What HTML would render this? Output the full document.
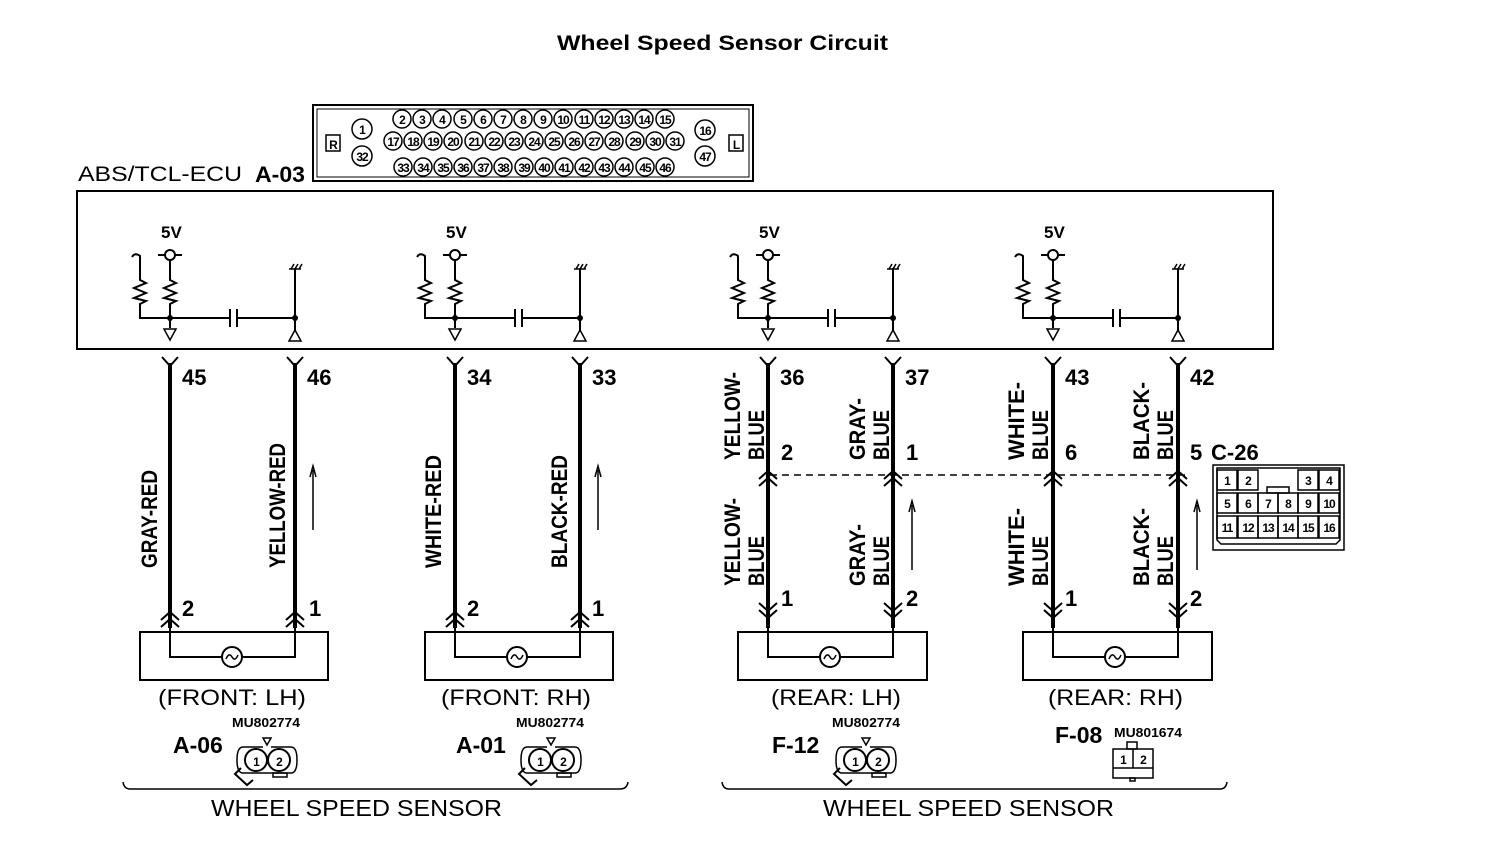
<!DOCTYPE html>
<html><head><meta charset="utf-8"><style>
html,body{margin:0;padding:0;background:#fff}
svg{display:block}
text{font-family:"Liberation Sans",sans-serif;fill:#000}
.b{font-weight:bold}
.pn{font-weight:bold;font-size:12px;letter-spacing:-1px}
.num{font-weight:bold;font-size:22px}
.lab{font-weight:bold;font-size:22px}
</style></head><body>
<svg width="1504" height="852" viewBox="0 0 1504 852" xmlns="http://www.w3.org/2000/svg">
<defs>
<g id="ecu" fill="none" stroke="#000" stroke-width="2">
  <line x1="-12" y1="255" x2="12" y2="255"/>
  <circle cx="0" cy="255" r="5" fill="#fff"/>
  <path d="M0,260 L0,280 L6,283 L-6,288 L6,293 L-6,298 L6,301 L0,304 L0,318"/>
  <path d="M-38,257 Q-35,252 -30,256 L-30,280 L-24,283 L-36,288 L-24,293 L-36,298 L-24,301 L-30,304 L-30,318 L0,318"/>
  <line x1="0" y1="318" x2="60" y2="318"/>
  <line x1="60" y1="309" x2="60" y2="327"/>
  <line x1="67" y1="309" x2="67" y2="327"/>
  <line x1="67" y1="318" x2="125" y2="318"/>
  <line x1="125" y1="268" x2="125" y2="330"/>
  <path d="M119,269 L131,269 M121,269 L124,264 M125,269 L128,264 M129,269 L132,264" stroke-width="1.5"/>
  <line x1="0" y1="318" x2="0" y2="328"/>
  <path d="M-6,329 L6,329 L0,340 Z" stroke-width="1.5"/>
  <path d="M119,341 L131,341 L125,330 Z" stroke-width="1.5"/>
  <circle cx="0" cy="318" r="3" fill="#000" stroke="none"/>
  <circle cx="125" cy="318" r="3" fill="#000" stroke="none"/>
  <path d="M-8,357 L0,366 L8,357 M117,357 L125,366 L133,357"/>
</g>
<g id="front" fill="none" stroke="#000">
  <line x1="0" y1="363" x2="0" y2="628" stroke-width="4"/>
  <line x1="125" y1="363" x2="125" y2="628" stroke-width="4"/>
  <path d="M-9,620 L0,612 L9,620 M-9,627 L0,619 L9,627 M116,620 L125,612 L134,620 M116,627 L125,619 L134,627" stroke-width="2"/>
  <rect x="-30" y="632" width="188" height="48" stroke-width="2"/>
  <path d="M0,628 L0,657 L52,657 M72,657 L125,657 L125,628" stroke-width="2"/>
  <circle cx="62" cy="657" r="10" stroke-width="2"/>
  <path d="M56,659 Q59,652 62,657 Q65,662 68,655" stroke-width="1.5"/>
  <line x1="143" y1="530" x2="143" y2="470" stroke-width="1.5"/>
  <path d="M140,477 L143,466 L146,477" stroke-width="1.5"/>
</g>
<g id="rear" fill="none" stroke="#000">
  <line x1="0" y1="363" x2="0" y2="628" stroke-width="4"/>
  <line x1="125" y1="363" x2="125" y2="628" stroke-width="4"/>
  <path d="M-9,479 L0,471 L9,479 M-9,486 L0,478 L9,486 M116,479 L125,471 L134,479 M116,486 L125,478 L134,486" stroke-width="2"/>
  <path d="M-9,603 L0,611 L9,603 M-9,610 L0,618 L9,610 M116,603 L125,611 L134,603 M116,610 L125,618 L134,610" stroke-width="2"/>
  <rect x="-30" y="632" width="189" height="48" stroke-width="2"/>
  <path d="M0,628 L0,657 L52,657 M72,657 L125,657 L125,628" stroke-width="2"/>
  <circle cx="62" cy="657" r="10" stroke-width="2"/>
  <path d="M56,659 Q59,652 62,657 Q65,662 68,655" stroke-width="1.5"/>
  <line x1="144" y1="570" x2="144" y2="505" stroke-width="1.5"/>
  <path d="M141,512 L144,501 L147,512" stroke-width="1.5"/>
</g>
<g id="conn2" fill="none" stroke="#000" stroke-width="2">
  <path d="M-4,-22 L4,-22 L0,-15 Z" stroke-width="1.5"/>
  <path d="M-4,-13 L-24,-13 Q-30,-13 -30,0 Q-30,13 -24,13 L24,13 Q30,13 30,0 Q30,-13 24,-13 L4,-13" stroke-width="1.5"/>
  <circle cx="-11" cy="0" r="11"/>
  <circle cx="12" cy="0" r="11"/>
  <path d="M-26,8 L-32,14 L-20,25 L-14,20" />
  <rect x="6" y="13" width="14" height="4" stroke-width="1.5"/>
</g>
</defs>

<text x="557" y="50" class="b" font-size="21" textLength="331" lengthAdjust="spacingAndGlyphs">Wheel Speed Sensor Circuit</text>

<!-- top connector -->
<rect x="313" y="105" width="440" height="76" fill="none" stroke="#000" stroke-width="2"/>
<rect x="317" y="109" width="432" height="68" fill="none" stroke="#000" stroke-width="1"/>
<rect x="326" y="135" width="14" height="16" fill="none" stroke="#000" stroke-width="1.5"/>
<text x="333" y="149" class="pn" text-anchor="middle">R</text>
<rect x="729" y="135" width="14" height="16" fill="none" stroke="#000" stroke-width="1.5"/>
<text x="736" y="149" class="pn" text-anchor="middle">L</text>
<g fill="none" stroke="#000" stroke-width="1.5">
<circle cx="362" cy="129" r="10"/><circle cx="362" cy="156" r="10"/><circle cx="705" cy="130" r="10"/><circle cx="705" cy="156" r="10"/>
<circle cx="402" cy="119" r="9"/><circle cx="422" cy="119" r="9"/><circle cx="442" cy="119" r="9"/><circle cx="463" cy="119" r="9"/><circle cx="483" cy="119" r="9"/><circle cx="503" cy="119" r="9"/><circle cx="523" cy="119" r="9"/><circle cx="543" cy="119" r="9"/><circle cx="563" cy="119" r="9"/><circle cx="584" cy="119" r="9"/><circle cx="604" cy="119" r="9"/><circle cx="624" cy="119" r="9"/><circle cx="644" cy="119" r="9"/><circle cx="665" cy="119" r="9"/>
<circle cx="393" cy="141" r="9"/><circle cx="413" cy="141" r="9"/><circle cx="433" cy="141" r="9"/><circle cx="453" cy="141" r="9"/><circle cx="474" cy="141" r="9"/><circle cx="494" cy="141" r="9"/><circle cx="514" cy="141" r="9"/><circle cx="534" cy="141" r="9"/><circle cx="554" cy="141" r="9"/><circle cx="574" cy="141" r="9"/><circle cx="594" cy="141" r="9"/><circle cx="614" cy="141" r="9"/><circle cx="635" cy="141" r="9"/><circle cx="655" cy="141" r="9"/><circle cx="675" cy="141" r="9"/>
<circle cx="403" cy="167" r="9"/><circle cx="423" cy="167" r="9"/><circle cx="443" cy="167" r="9"/><circle cx="463" cy="167" r="9"/><circle cx="483" cy="167" r="9"/><circle cx="503" cy="167" r="9"/><circle cx="524" cy="167" r="9"/><circle cx="544" cy="167" r="9"/><circle cx="564" cy="167" r="9"/><circle cx="584" cy="167" r="9"/><circle cx="604" cy="167" r="9"/><circle cx="624" cy="167" r="9"/><circle cx="645" cy="167" r="9"/><circle cx="665" cy="167" r="9"/>
</g>
<g class="pn" text-anchor="middle">
<text x="362" y="134">1</text><text x="362" y="161">32</text><text x="705" y="135">16</text><text x="705" y="161">47</text>
<text x="402" y="124">2</text><text x="422" y="124">3</text><text x="442" y="124">4</text><text x="463" y="124">5</text><text x="483" y="124">6</text><text x="503" y="124">7</text><text x="523" y="124">8</text><text x="543" y="124">9</text><text x="563" y="124">10</text><text x="584" y="124">11</text><text x="604" y="124">12</text><text x="624" y="124">13</text><text x="644" y="124">14</text><text x="665" y="124">15</text>
<text x="393" y="146">17</text><text x="413" y="146">18</text><text x="433" y="146">19</text><text x="453" y="146">20</text><text x="474" y="146">21</text><text x="494" y="146">22</text><text x="514" y="146">23</text><text x="534" y="146">24</text><text x="554" y="146">25</text><text x="574" y="146">26</text><text x="594" y="146">27</text><text x="614" y="146">28</text><text x="635" y="146">29</text><text x="655" y="146">30</text><text x="675" y="146">31</text>
<text x="403" y="172">33</text><text x="423" y="172">34</text><text x="443" y="172">35</text><text x="463" y="172">36</text><text x="483" y="172">37</text><text x="503" y="172">38</text><text x="524" y="172">39</text><text x="544" y="172">40</text><text x="564" y="172">41</text><text x="584" y="172">42</text><text x="604" y="172">43</text><text x="624" y="172">44</text><text x="645" y="172">45</text><text x="665" y="172">46</text>
</g>

<text x="78" y="181" font-size="21" textLength="164" lengthAdjust="spacingAndGlyphs">ABS/TCL-ECU</text>
<text x="255" y="182" class="b" font-size="22" textLength="50" lengthAdjust="spacingAndGlyphs">A-03</text>
<rect x="77" y="191" width="1196" height="158" fill="none" stroke="#000" stroke-width="2"/>

<use href="#ecu" x="170"/><use href="#ecu" x="455"/><use href="#ecu" x="768"/><use href="#ecu" x="1053"/>
<g class="b" font-size="17">
<text x="161" y="238">5V</text><text x="446" y="238">5V</text><text x="759" y="238">5V</text><text x="1044" y="238">5V</text>
</g>

<use href="#front" x="170"/><use href="#front" x="455"/>
<use href="#rear" x="768"/><use href="#rear" x="1053"/>
<line x1="770" y1="475" x2="1185" y2="475" stroke="#000" stroke-width="1.5" stroke-dasharray="7,5"/>

<g class="num">
<text x="182" y="385">45</text><text x="307" y="385">46</text><text x="467" y="385">34</text><text x="592" y="385">33</text>
<text x="780" y="385">36</text><text x="905" y="385">37</text><text x="1065" y="385">43</text><text x="1190" y="385">42</text>
<text x="182" y="616">2</text><text x="309" y="616">1</text><text x="467" y="616">2</text><text x="592" y="616">1</text>
<text x="781" y="460">2</text><text x="906" y="460">1</text><text x="1065" y="460">6</text><text x="1190" y="460">5</text>
<text x="781" y="606">1</text><text x="906" y="606">2</text><text x="1065" y="606">1</text><text x="1190" y="606">2</text>
<text x="1211" y="460">C-26</text>
</g>

<g class="lab">
<text transform="translate(157,568) rotate(-90)" textLength="98" lengthAdjust="spacingAndGlyphs">GRAY-RED</text>
<text transform="translate(285,568) rotate(-90)" textLength="125" lengthAdjust="spacingAndGlyphs">YELLOW-RED</text>
<text transform="translate(441,568) rotate(-90)" textLength="113" lengthAdjust="spacingAndGlyphs">WHITE-RED</text>
<text transform="translate(567,568) rotate(-90)" textLength="113" lengthAdjust="spacingAndGlyphs">BLACK-RED</text>
<text transform="translate(740,460) rotate(-90)" textLength="88" lengthAdjust="spacingAndGlyphs">YELLOW-</text>
<text transform="translate(764,460) rotate(-90)" textLength="50" lengthAdjust="spacingAndGlyphs">BLUE</text>
<text transform="translate(740,586) rotate(-90)" textLength="88" lengthAdjust="spacingAndGlyphs">YELLOW-</text>
<text transform="translate(764,586) rotate(-90)" textLength="50" lengthAdjust="spacingAndGlyphs">BLUE</text>
<text transform="translate(865,460) rotate(-90)" textLength="62" lengthAdjust="spacingAndGlyphs">GRAY-</text>
<text transform="translate(889,460) rotate(-90)" textLength="50" lengthAdjust="spacingAndGlyphs">BLUE</text>
<text transform="translate(865,586) rotate(-90)" textLength="62" lengthAdjust="spacingAndGlyphs">GRAY-</text>
<text transform="translate(889,586) rotate(-90)" textLength="50" lengthAdjust="spacingAndGlyphs">BLUE</text>
<text transform="translate(1024,460) rotate(-90)" textLength="78" lengthAdjust="spacingAndGlyphs">WHITE-</text>
<text transform="translate(1048,460) rotate(-90)" textLength="50" lengthAdjust="spacingAndGlyphs">BLUE</text>
<text transform="translate(1024,586) rotate(-90)" textLength="78" lengthAdjust="spacingAndGlyphs">WHITE-</text>
<text transform="translate(1048,586) rotate(-90)" textLength="50" lengthAdjust="spacingAndGlyphs">BLUE</text>
<text transform="translate(1149,460) rotate(-90)" textLength="78" lengthAdjust="spacingAndGlyphs">BLACK-</text>
<text transform="translate(1173,460) rotate(-90)" textLength="50" lengthAdjust="spacingAndGlyphs">BLUE</text>
<text transform="translate(1149,586) rotate(-90)" textLength="78" lengthAdjust="spacingAndGlyphs">BLACK-</text>
<text transform="translate(1173,586) rotate(-90)" textLength="50" lengthAdjust="spacingAndGlyphs">BLUE</text>
</g>

<!-- C-26 connector -->
<g fill="none" stroke="#000" stroke-width="1.5">
<rect x="1213" y="465" width="131" height="85"/>
<path d="M1217,468 L1340,468 L1340,540 L1336,544 L1221,544 L1217,540 Z"/>
<rect x="1217" y="470" width="20" height="20"/><rect x="1238" y="470" width="20" height="20"/>
<rect x="1298" y="470" width="20" height="20"/><rect x="1319" y="470" width="20" height="20"/>
<rect x="1267" y="487" width="22" height="6"/>
<rect x="1217" y="493" width="20" height="20"/><rect x="1238" y="493" width="20" height="20"/><rect x="1258" y="493" width="20" height="20"/><rect x="1278" y="493" width="20" height="20"/><rect x="1298" y="493" width="20" height="20"/><rect x="1319" y="493" width="20" height="20"/>
<rect x="1217" y="516" width="20" height="22"/><rect x="1238" y="516" width="20" height="22"/><rect x="1258" y="516" width="20" height="22"/><rect x="1278" y="516" width="20" height="22"/><rect x="1298" y="516" width="20" height="22"/><rect x="1319" y="516" width="20" height="22"/>
</g>
<g class="pn" font-size="14" text-anchor="middle">
<text x="1227" y="485">1</text><text x="1248" y="485">2</text><text x="1308" y="485">3</text><text x="1329" y="485">4</text>
<text x="1227" y="508">5</text><text x="1248" y="508">6</text><text x="1268" y="508">7</text><text x="1288" y="508">8</text><text x="1308" y="508">9</text><text x="1329" y="508">10</text>
<text x="1227" y="532">11</text><text x="1248" y="532">12</text><text x="1268" y="532">13</text><text x="1288" y="532">14</text><text x="1308" y="532">15</text><text x="1329" y="532">16</text>
</g>

<g font-size="22" lengthAdjust="spacingAndGlyphs">
<text x="158" y="705" textLength="148" lengthAdjust="spacingAndGlyphs">(FRONT: LH)</text>
<text x="441" y="705" textLength="150" lengthAdjust="spacingAndGlyphs">(FRONT: RH)</text>
<text x="771" y="705" textLength="130" lengthAdjust="spacingAndGlyphs">(REAR: LH)</text>
<text x="1048" y="705" textLength="135" lengthAdjust="spacingAndGlyphs">(REAR: RH)</text>
</g>
<g class="b" font-size="13">
<text x="232" y="727" textLength="68" lengthAdjust="spacingAndGlyphs">MU802774</text>
<text x="516" y="727" textLength="68" lengthAdjust="spacingAndGlyphs">MU802774</text>
<text x="832" y="727" textLength="68" lengthAdjust="spacingAndGlyphs">MU802774</text>
<text x="1114" y="737" textLength="68" lengthAdjust="spacingAndGlyphs">MU801674</text>
</g>
<g class="b" font-size="23">
<text x="173" y="753">A-06</text><text x="456" y="753">A-01</text><text x="772" y="753">F-12</text><text x="1055" y="743">F-08</text>
</g>
<use href="#conn2" x="267" y="760"/><use href="#conn2" x="551" y="760"/><use href="#conn2" x="866" y="760"/>
<g class="pn" font-size="15" text-anchor="middle">
<text x="256" y="766">1</text><text x="279" y="766">2</text>
<text x="540" y="766">1</text><text x="563" y="766">2</text>
<text x="855" y="766">1</text><text x="878" y="766">2</text>
</g>
<g fill="none" stroke="#000" stroke-width="1.5">
<rect x="1127" y="742" width="10" height="7"/>
<rect x="1113" y="749" width="40" height="29"/>
<line x1="1133" y1="749" x2="1133" y2="768"/>
<line x1="1113" y1="768" x2="1153" y2="768"/>
<rect x="1130" y="778" width="5" height="3"/>
</g>
<g class="pn" font-size="14" text-anchor="middle"><text x="1123" y="764">1</text><text x="1143" y="764">2</text></g>

<g fill="none" stroke="#000" stroke-width="1.5">
<path d="M123,782 Q124,789 130,789 L620,789 Q627,789 628,782"/>
<path d="M722,782 Q723,789 729,789 L1220,789 Q1226,789 1227,782"/>
</g>
<g font-size="23">
<text x="211" y="816" textLength="291" lengthAdjust="spacingAndGlyphs">WHEEL SPEED SENSOR</text>
<text x="823" y="816" textLength="291" lengthAdjust="spacingAndGlyphs">WHEEL SPEED SENSOR</text>
</g>
</svg>
</body></html>
